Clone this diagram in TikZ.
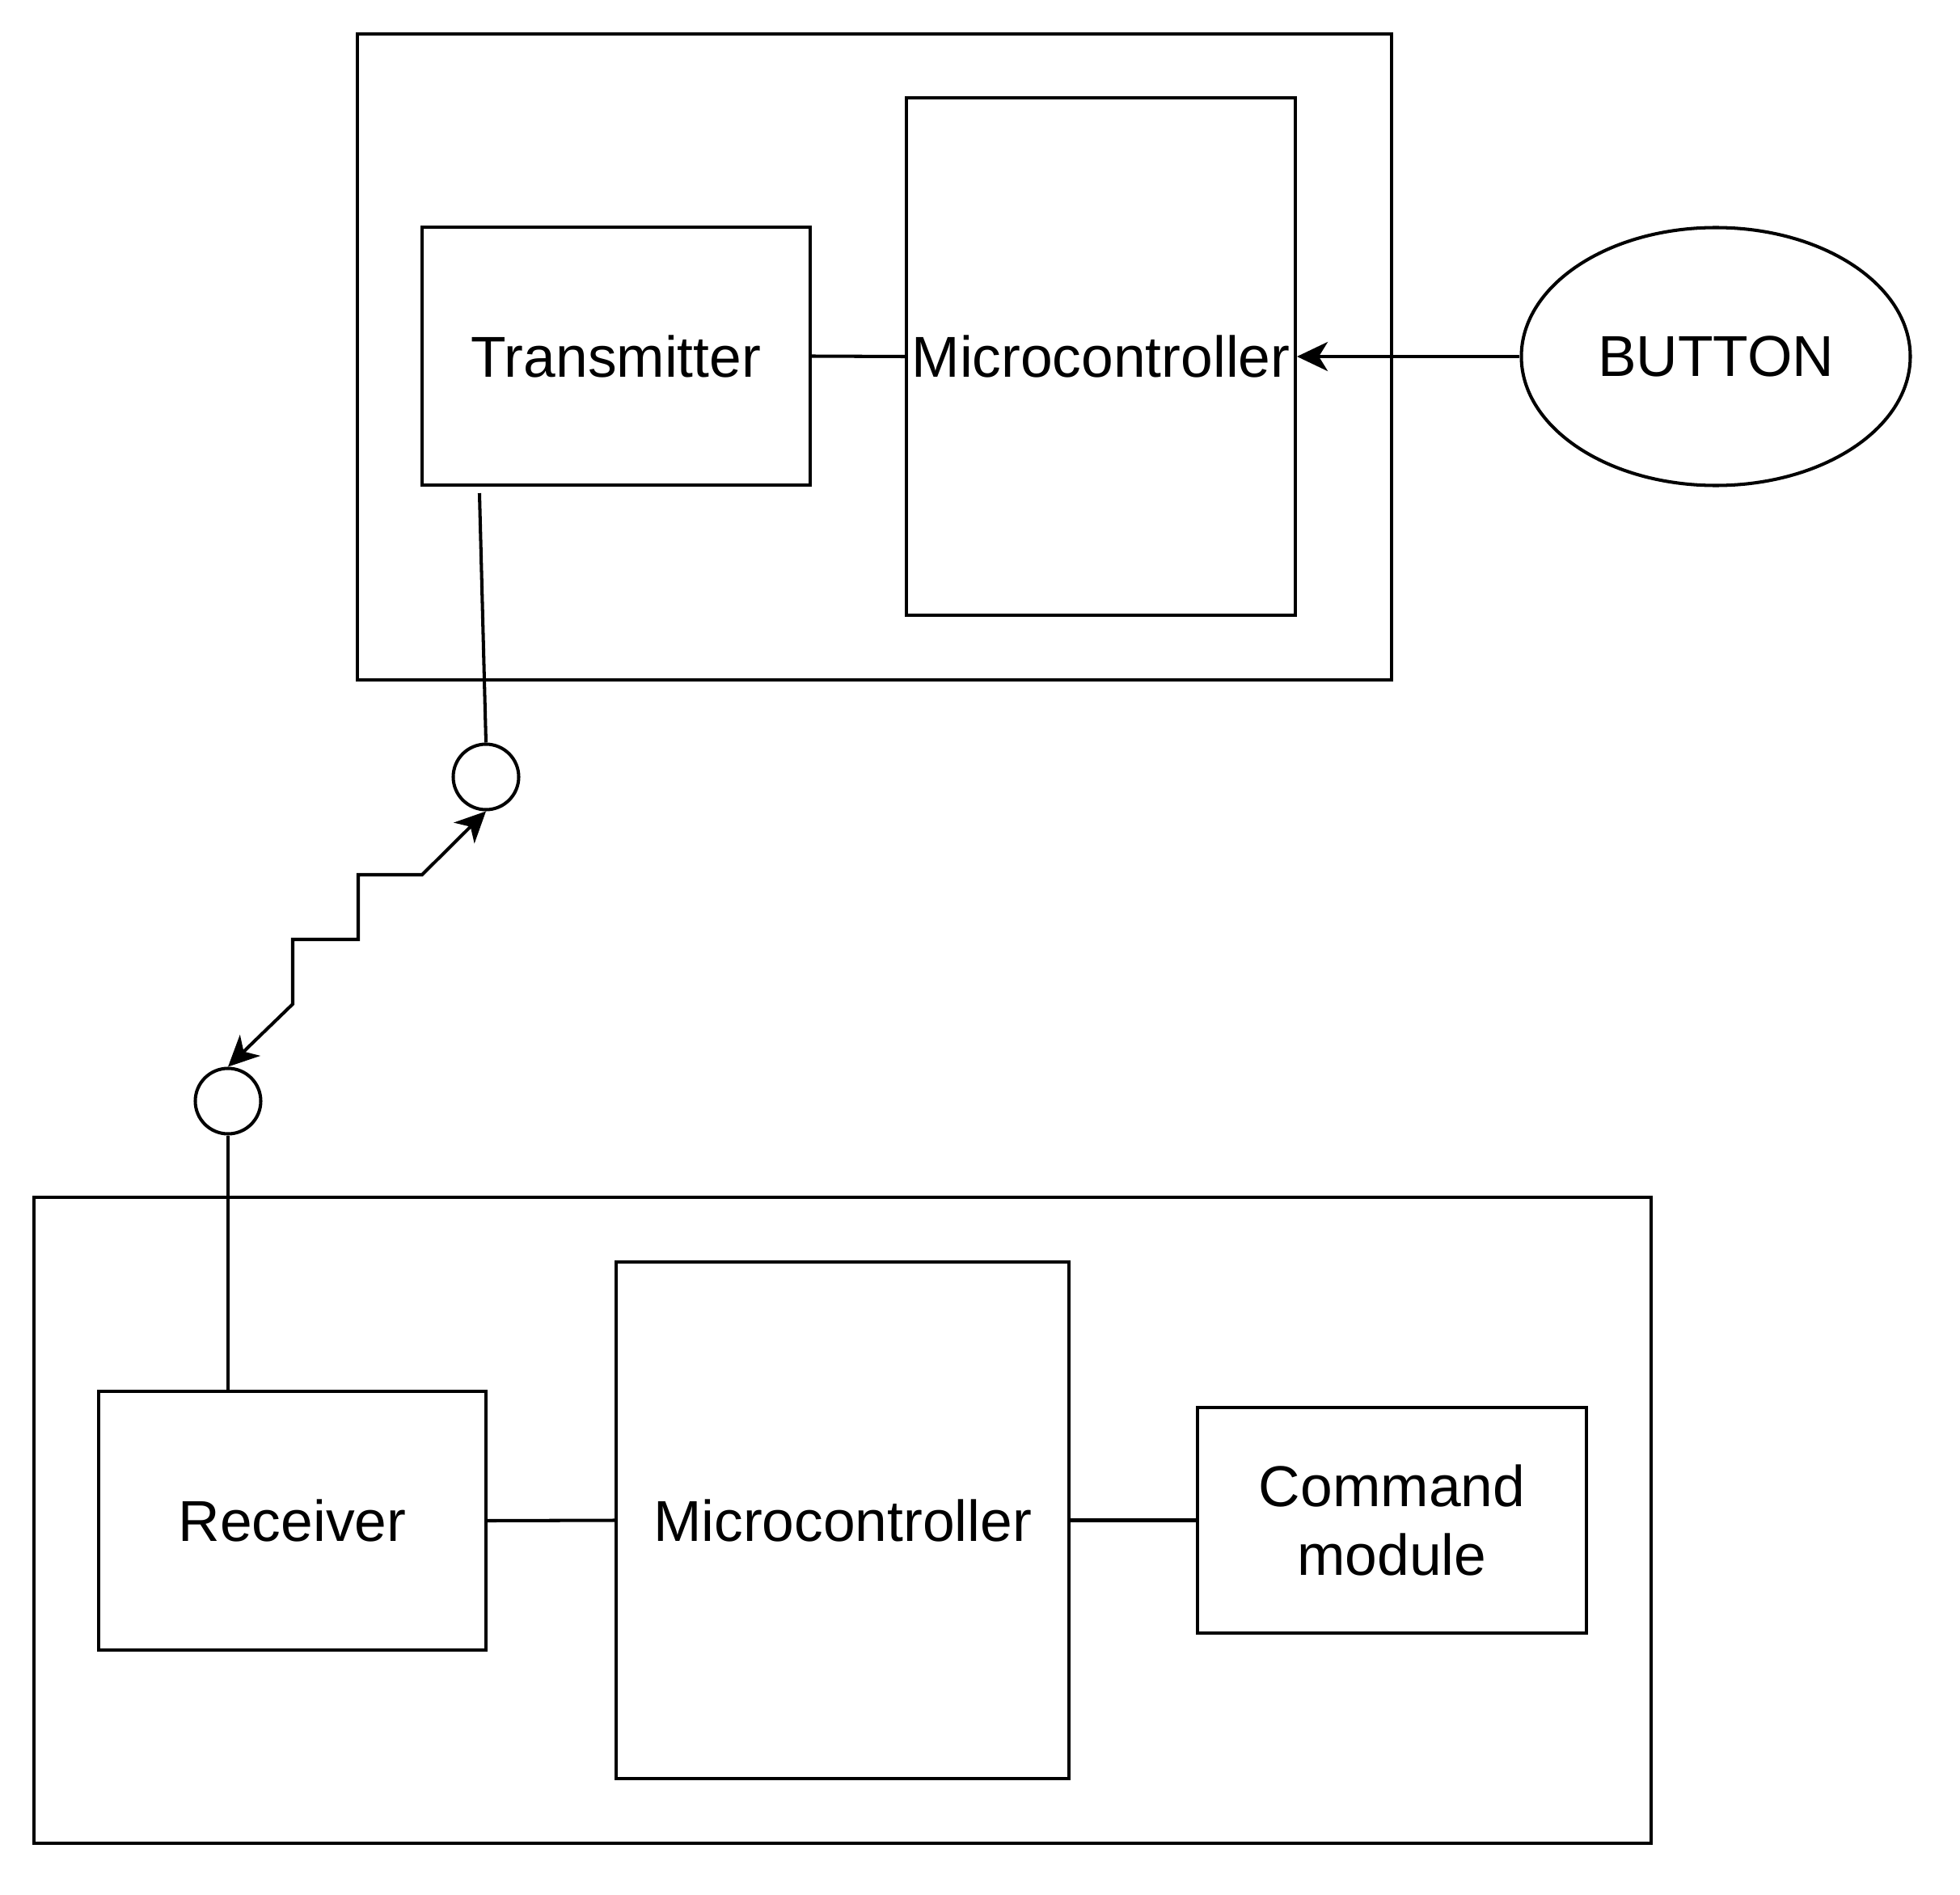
\documentclass[tikz,border=0pt]{standalone}
\usepackage{fontspec}
\setmainfont{Liberation Sans}
\usetikzlibrary{arrows.meta,calc,positioning,shapes.geometric}
\tikzset{>={Stealth[length=3.8mm,width=3.6mm,inset=1.1mm]},
  every node/.style={font=\fontsize{20.3}{24.4}\selectfont},
  frame/.style={draw,inner sep=0pt},
  block/.style={draw,inner sep=0pt,align=center},
  antenna/.style={draw,circle,minimum size=8.1mm,inner sep=0pt},
  link/.style={draw}}

\begin{document}
\begin{tikzpicture}[line width=1.15pt]
\useasboundingbox (0,0) rectangle (24.24,-23.44);
% transmitter side
\node[frame,minimum width=12.79cm,minimum height=7.99cm] (topbox) at (10.815,-4.415) {};
\node[block,minimum width=4.80cm,minimum height=3.19cm] (tx) at (7.62,-4.405) {Transmitter};
\node[block,minimum width=4.81cm,minimum height=6.40cm] (mcuA) at (13.615,-4.41) {Microcontroller};
\node[draw,ellipse,inner sep=0pt,minimum width=4.81cm,minimum height=3.19cm] (btn) at (21.22,-4.41) {BUTTON};
\draw[link] (tx.east)--(mcuA.west);\draw[->] (btn.west)--(mcuA.east);
% antennas and radio link
\node[antenna] (antA) at (6.01,-9.61) {};\node[antenna] (antB) at (2.82,-13.62) {};
\coordinate (txfoot) at ($(tx.south west)+(.73,-.08)$);
\draw[link] (txfoot)--(antA.north);
\draw[<->] (antB.north)--(3.62,-12.42)--(3.62,-11.62)--(4.43,-11.62)--(4.43,-10.82)--(5.22,-10.82)--(antA.south);
% receiver side
\node[frame,minimum width=20.0cm,minimum height=7.99cm] (botbox) at (10.42,-18.805) {};
\node[block,minimum width=4.79cm,minimum height=3.20cm] (rx) at (3.615,-18.81) {Receiver};
\node[block,minimum width=5.60cm,minimum height=6.39cm] (mcuB) at (10.42,-18.805) {Microcontroller};
\node[block,minimum width=4.81cm,minimum height=2.79cm] (cmd) at (17.215,-18.805) {Command\\module};
\draw[link] (antB.south)--(antB.south |- rx.north);
\draw[link] (rx.east)--(mcuB.west);\draw[link] (mcuB.east)--(cmd.west);
\end{tikzpicture}
\end{document}
